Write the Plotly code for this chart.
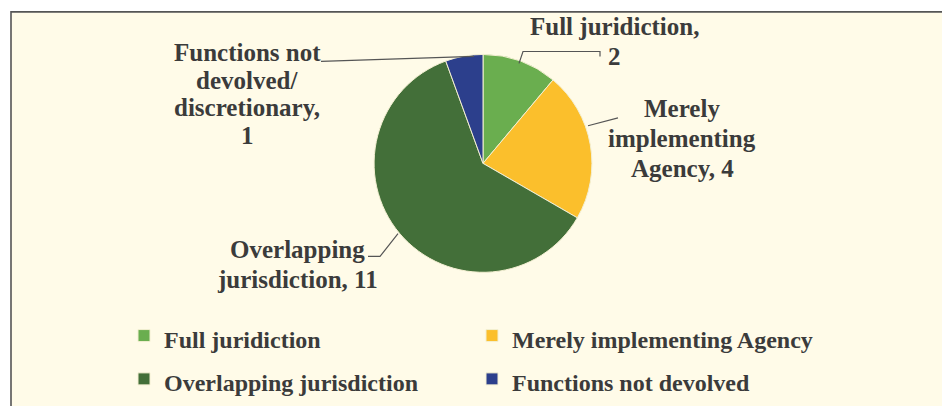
import plotly.graph_objects as go

# ---- data ----
categories = ["Full juridiction", "Merely implementing Agency",
              "Overlapping jurisdiction", "Functions not devolved"]
values = [2, 4, 11, 1]
colors = ["#6aae4f", "#fbbf2c", "#436f39", "#2c3f8c"]
# outside data-label text, split into lines ({v} = slice value)
label_lines = [
    ["Full juridiction,", "{v}"],
    ["Merely", "implementing", "Agency, {v}"],
    ["Overlapping", "jurisdiction, {v}"],
    ["Functions not", "devolved/", "discretionary,", "{v}"],
]

# ---- layout helpers (screen pixel -> paper) ----
W, H = 942, 406
def px(x):
    return x / W
def py(y):
    return 1 - y / H

FONT = "Liberation Serif"
TXT = "#3b3b3b"
LEG_PX = 24

# label placement: (center x, first line y, line spacing) in pixels
label_pos = [(614, 27, 30), (682, 110, 30), (297, 252, 30), (247, 53, 28)]
# leader lines in pixels
leaders = [
    [(519, 64), (523, 52), (600, 52), (600, 57)],
    [(588, 127), (618, 119)],
    [(368, 259), (380, 259), (398, 236)],
    [(321, 62), (474, 57)],
]

cx, cy, r = 483, 165, 110

fig = go.Figure(go.Pie(
    labels=[f'<span style="font-size:{LEG_PX}px">{c}</span>' for c in categories],
    values=values,
    sort=False,
    direction="clockwise",
    rotation=0,
    textinfo="none",
    marker=dict(colors=colors, line=dict(color="#f3efd2", width=1)),
    domain=dict(x=[px(cx - r), px(cx + r)], y=[py(cy + r), py(cy - r)]),
    hoverinfo="value",
))

shapes = [dict(type="rect", xref="paper", yref="paper",
               x0=px(11), x1=px(960), y0=py(430), y1=py(12),
               fillcolor="#fffbe8", line=dict(color="#555555", width=1.6),
               layer="below")]
for pts in leaders:
    path = "M " + " L ".join(f"{px(x)},{py(y)}" for x, y in pts)
    shapes.append(dict(type="path", xref="paper", yref="paper", path=path,
                       line=dict(color="#555555", width=1.2)))

annotations = []
for lines, v, (lx, ly, dy) in zip(label_lines, values, label_pos):
    for i, t in enumerate(lines):
        annotations.append(dict(
            x=px(lx), y=py(ly + i * dy), xref="paper", yref="paper",
            text=t.format(v=v), showarrow=False, xanchor="center", yanchor="middle",
            font=dict(family=FONT, size=25, color=TXT, weight="bold")))

fig.update_layout(
    width=W, height=H,
    margin=dict(l=0, r=0, t=0, b=0),
    paper_bgcolor="#ffffff",
    plot_bgcolor="#ffffff",
    shapes=shapes,
    annotations=annotations,
    showlegend=True,
    legend=dict(orientation="h", x=px(124), xanchor="left", y=py(312), yanchor="top",
                entrywidth=303, entrywidthmode="pixels",
                bgcolor="rgba(0,0,0,0)",
                font=dict(family=FONT, size=31, color=TXT, weight="bold")),
)

fig.write_html("out.html", config={"displayModeBar": False},
               post_script="document.body.style.margin='0px';")
